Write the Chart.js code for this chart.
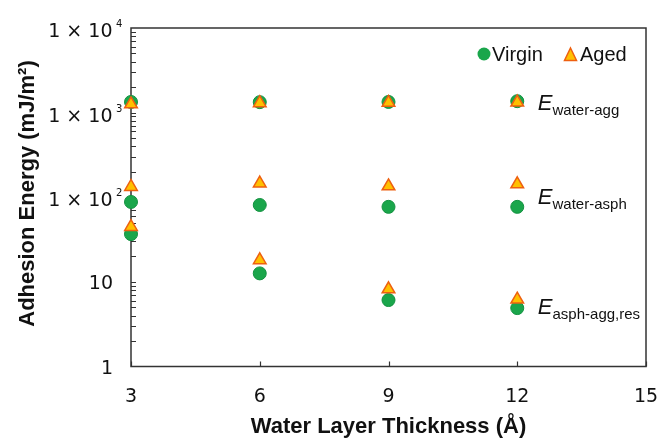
<!DOCTYPE html>
<html>
<head>
<meta charset="utf-8">
<script src="https://cdn.jsdelivr.net/npm/chart.js@4.4.0/dist/chart.umd.min.js"></script>
<style>
  html, body { margin: 0; padding: 0; background: #fff; }
  #wrap { width: 661px; height: 438px; position: relative; }
  .preload { position: absolute; left: -9999px; top: 0; font-family: 'Liberation Sans'; }
</style>
</head>
<body>
<div id="wrap"><canvas id="adhesionChart" width="661" height="438"></canvas></div>
<div class="preload"><b>Aa</b><i>Ee</i>Aa</div>
<script>
// water layer thickness (Å)
const thickness = [3, 6, 9, 12];

// adhesion energies (mJ/m2)
const virginWaterAgg = [1337, 1330, 1337, 1365];
const agedWaterAgg = [1257, 1300, 1310, 1320];
const virginWaterAsph = [88, 81, 77, 77];
const agedWaterAsph = [133, 146, 135, 143];
const virginAsphAggRes = [36.7, 12.6, 6.1, 4.9];
const agedAsphAggRes = [44.7, 18.1, 8.2, 6.2];

const xTicks = [3, 6, 9, 12, 15];
const yTicks = [1, 10, 100, 1000, 10000];
const yTickText = ["1", "10", "1 × 10", "1 × 10", "1 × 10"];
const yTickExp = ["", "", "2", "3", "4"];

const energyNames = ["water-agg", "water-asph", "asph-agg,res"];
const energyNameY = [1321, 103, 5.2];
const energyNameX = 12.48;

const SANS = "'Liberation Sans', Arial, sans-serif";
const TICK_FONT = "'DejaVu Sans', Verdana, sans-serif";

function points(ys) {
    return thickness.map((t, i) => ({ x: t, y: ys[i] }));
}

const boxAndText = {
    id: "boxAndText",
    beforeDatasetsDraw(chart) {
        const { ctx, chartArea: a, scales: { x, y } } = chart;
        ctx.save();
        ctx.strokeStyle = "#333";
        ctx.lineWidth = 1.2;
        ctx.beginPath();
        // log ticks on the left, pointing in
        for (let p = 0; p < 4; p++) {
            for (let m = 1; m <= 9; m++) {
                const v = m * Math.pow(10, p);
                if (v === 1) continue;
                const py = Math.round(y.getPixelForValue(v)) + 0.5;
                ctx.moveTo(a.left, py);
                ctx.lineTo(a.left + 5, py);
            }
        }
        xTicks.forEach(t => {
            const px = Math.round(x.getPixelForValue(t)) + 0.5;
            ctx.moveTo(px, a.bottom);
            ctx.lineTo(px, a.bottom - 5);
        });
        ctx.stroke();
        ctx.lineWidth = 1.5;
        ctx.strokeRect(a.left, a.top, a.right - a.left, a.bottom - a.top);
        ctx.restore();
    },
    afterDraw(chart) {
        const { ctx, chartArea: a, scales: { x, y } } = chart;
        ctx.save();
        ctx.fillStyle = "#111";

        // tick labels
        ctx.font = "19px " + TICK_FONT;
        ctx.textAlign = "center";
        ctx.textBaseline = "alphabetic";
        xTicks.forEach(t => {
            ctx.fillText(String(t), x.getPixelForValue(t), a.bottom + 35);
        });
        yTicks.forEach((v, i) => {
            const py = y.getPixelForValue(v);
            if (yTickExp[i]) {
                ctx.font = "10px " + TICK_FONT;
                ctx.textAlign = "left";
                ctx.fillText(yTickExp[i], a.left - 15, py - 1);
                ctx.font = "19px " + TICK_FONT;
                ctx.textAlign = "right";
                ctx.fillText(yTickText[i], a.left - 18.5, py + 9);
            } else {
                ctx.font = "19px " + TICK_FONT;
                ctx.textAlign = "right";
                ctx.fillText(yTickText[i], a.left - 18, py + 7);
            }
        });

        // axis titles
        ctx.font = "bold 22px " + SANS;
        ctx.textAlign = "center";
        ctx.fillText("Water Layer Thickness (Å)", (a.left + a.right) / 2, 433);
        ctx.save();
        ctx.translate(33.5, 193.5);
        ctx.rotate(-Math.PI / 2);
        ctx.fillText("Adhesion Energy (mJ/m²)", 0, 0);
        ctx.restore();

        // E labels with subscripts
        ctx.textAlign = "left";
        energyNames.forEach((name, i) => {
            const px = x.getPixelForValue(energyNameX);
            const base = y.getPixelForValue(energyNameY[i]) + 8;
            ctx.font = "italic 22px " + SANS;
            ctx.fillText("E", px, base);
            const w = ctx.measureText("E").width;
            ctx.font = "15px " + SANS;
            ctx.fillText(name, px + w, base + 5);
        });

        // legend
        ctx.beginPath();
        ctx.arc(484, 54, 6.5, 0, Math.PI * 2);
        ctx.fillStyle = "#1aa64b";
        ctx.fill();
        ctx.beginPath();
        ctx.moveTo(570.5, 48);
        ctx.lineTo(576.5, 60.5);
        ctx.lineTo(564.5, 60.5);
        ctx.closePath();
        ctx.fillStyle = "#ffc000";
        ctx.fill();
        ctx.strokeStyle = "#ee6010";
        ctx.lineWidth = 1.5;
        ctx.stroke();
        ctx.fillStyle = "#111";
        ctx.font = "20px " + SANS;
        ctx.fillText("Virgin", 492, 61);
        ctx.fillText("Aged", 580, 61);
        ctx.restore();
    }
};

function drawChart() {
    new Chart(document.getElementById("adhesionChart"), {
        type: "scatter",
        data: {
            datasets: [{
                label: "Virgin",
                data: [...points(virginWaterAgg), ...points(virginWaterAsph), ...points(virginAsphAggRes)],
                pointStyle: "circle",
                pointRadius: 6.5,
                backgroundColor: "#1aa64b",
                borderColor: "#139140",
                borderWidth: 1,
                clip: false,
                order: 2
            }, {
                label: "Aged",
                data: [...points(agedWaterAgg), ...points(agedWaterAsph), ...points(agedAsphAggRes)],
                pointStyle: "triangle",
                pointRadius: 7.3,
                backgroundColor: "#ffc000",
                borderColor: "#ee6010",
                borderWidth: 1.5,
                clip: false,
                order: 1
            }]
        },
        options: {
            responsive: false,
            animation: false,
            events: [],
            layout: { padding: { left: 131, right: 15, top: 28, bottom: 71.5 } },
            plugins: { legend: { display: false }, tooltip: { enabled: false } },
            scales: {
                x: { type: "linear", min: 3, max: 15, display: false },
                y: { type: "logarithmic", min: 1, max: 10000, display: false }
            }
        },
        plugins: [boxAndText]
    });
}

Promise.all([
    document.fonts.load("bold 22px 'Liberation Sans'"),
    document.fonts.load("italic 22px 'Liberation Sans'"),
    document.fonts.load("20px 'Liberation Sans'"),
    document.fonts.load("19px 'DejaVu Sans'")
]).then(drawChart, drawChart);
</script>
</body>
</html>
